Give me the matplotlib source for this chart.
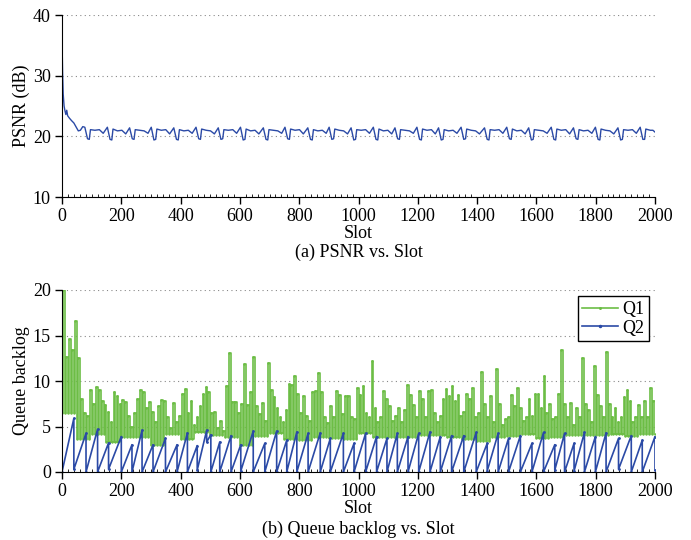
import matplotlib
matplotlib.use("Agg")
import matplotlib.pyplot as plt
from matplotlib.ticker import MultipleLocator

plt.rcParams['font.family'] = ['Liberation Serif', 'DejaVu Serif']
plt.rcParams['font.size'] = 13

# ==========================================
# (a) PSNR vs. Slot  -- key points
# ==========================================
psnr_slot = [
    0, 2, 4, 7, 10, 13, 16, 19, 25, 32, 40, 48, 55, 62, 70, 77,
    86, 92, 96, 111, 126, 139, 153,
    162, 168, 172, 187, 202, 215, 228,
    237, 243, 247, 262, 277, 290, 301,
    310, 316, 320, 335, 350, 363, 377,
    386, 392, 396, 411, 426, 439, 452,
    461, 467, 471, 486, 501, 514, 527,
    536, 542, 546, 561, 576, 589, 602,
    611, 617, 621, 636, 651, 664, 679,
    688, 694, 698, 713, 728, 741, 752,
    761, 767, 771, 786, 801, 814, 829,
    838, 844, 848, 863, 878, 891, 901,
    910, 916, 920, 935, 950, 963, 975,
    984, 990, 994, 1009, 1024, 1037, 1050,
    1059, 1065, 1069, 1084, 1099, 1112, 1123,
    1132, 1138, 1142, 1157, 1172, 1185, 1197,
    1206, 1212, 1216, 1231, 1246, 1259, 1270,
    1279, 1285, 1289, 1304, 1319, 1332, 1346,
    1355, 1361, 1365, 1380, 1395, 1408, 1425,
    1434, 1440, 1444, 1459, 1474, 1487, 1500,
    1509, 1515, 1519, 1534, 1549, 1562, 1574,
    1583, 1589, 1593, 1608, 1623, 1636, 1650,
    1659, 1665, 1669, 1684, 1699, 1712, 1725,
    1734, 1740, 1744, 1759, 1774, 1787, 1799,
    1808, 1814, 1818, 1833, 1848, 1861, 1875,
    1884, 1890, 1894, 1909, 1924, 1937, 1950,
    1959, 1965, 1969, 1984, 1993, 2000,
]
psnr_db = [
    36.0, 30.5, 27.0, 25.0, 24.2, 23.6, 24.3, 23.4, 23.0, 22.6, 22.2, 21.5, 20.9, 21.0, 21.6, 21.5,
    19.6, 19.5, 21.1, 21.0, 21.1, 20.5, 21.5,
    19.5, 19.4, 21.2, 20.9, 21.0, 20.4, 21.4,
    19.6, 19.5, 21.1, 21.0, 20.9, 20.5, 21.5,
    19.4, 19.5, 21.2, 21.0, 21.1, 20.4, 21.4,
    19.5, 19.4, 21.1, 20.9, 21.0, 20.5, 21.5,
    19.6, 19.5, 21.2, 21.0, 20.9, 20.4, 21.4,
    19.5, 19.6, 21.1, 21.0, 21.1, 20.5, 21.5,
    19.4, 19.5, 21.2, 20.9, 21.0, 20.4, 21.4,
    19.5, 19.4, 21.1, 21.0, 20.9, 20.5, 21.5,
    19.6, 19.5, 21.2, 21.0, 21.1, 20.4, 21.4,
    19.5, 19.4, 21.1, 20.9, 21.0, 20.5, 21.5,
    19.5, 19.6, 21.2, 21.0, 20.9, 20.4, 21.4,
    19.4, 19.5, 21.1, 21.0, 21.1, 20.5, 21.5,
    19.5, 19.4, 21.2, 20.9, 21.0, 20.4, 21.4,
    19.6, 19.5, 21.1, 21.0, 20.9, 20.5, 21.5,
    19.5, 19.4, 21.2, 21.0, 21.1, 20.4, 21.4,
    19.4, 19.5, 21.1, 20.9, 21.0, 20.5, 21.5,
    19.5, 19.6, 21.2, 21.0, 20.9, 20.4, 21.4,
    19.5, 19.4, 21.1, 21.0, 21.1, 20.5, 21.5,
    19.6, 19.5, 21.2, 20.9, 21.0, 20.4, 21.4,
    19.4, 19.5, 21.1, 21.0, 20.9, 20.5, 21.5,
    19.5, 19.4, 21.2, 21.0, 21.1, 20.4, 21.4,
    19.6, 19.5, 21.1, 20.9, 21.0, 20.5, 21.5,
    19.5, 19.4, 21.2, 21.0, 20.9, 20.4, 21.4,
    19.4, 19.5, 21.1, 21.0, 21.1, 20.5, 21.5,
    19.5, 19.5, 21.2, 21.0, 21.0, 20.7,
]

# ==========================================
# (b) Queue backlog
# ==========================================
# Q1: highest value in each 10-slot bin, and the floor level per 50 slots
q1_peak = [
    20.0, 12.6, 14.6, 13.4, 16.6, 12.5, 8.0, 6.5, 6.2, 9.0, 7.5, 9.3, 9.0, 7.8, 7.4, 6.6, 5.5, 8.8, 8.4, 7.5,
    7.9, 7.7, 6.1, 5.0, 6.5, 8.0, 9.0, 8.8, 7.0, 7.7, 6.6, 5.5, 7.2, 7.9, 7.8, 6.0, 4.8, 7.6, 5.5, 6.2,
    8.6, 9.1, 6.5, 7.8, 5.2, 6.0, 7.2, 8.6, 9.3, 8.8, 6.5, 6.6, 4.8, 5.6, 4.5, 9.4, 13.1, 7.7, 7.7, 6.5,
    7.5, 11.9, 7.4, 8.8, 12.6, 7.2, 6.4, 7.6, 5.6, 12.0, 9.0, 8.2, 7.0, 6.0, 5.5, 6.8, 9.7, 9.6, 10.6, 8.6,
    6.5, 8.4, 6.2, 5.6, 8.8, 8.9, 10.9, 8.8, 6.0, 5.4, 7.2, 6.0, 8.9, 8.5, 6.4, 8.4, 8.3, 6.0, 5.8, 9.2,
    8.5, 9.5, 6.5, 6.0, 12.2, 7.0, 5.5, 6.0, 8.9, 8.0, 7.2, 5.6, 6.2, 7.0, 5.5, 6.8, 9.6, 8.5, 7.4, 6.0,
    8.9, 8.0, 6.0, 8.9, 9.0, 6.5, 5.5, 6.2, 8.0, 9.1, 8.4, 9.5, 7.8, 8.5, 6.2, 6.6, 8.6, 8.0, 9.2, 6.0,
    6.5, 11.0, 7.5, 6.0, 8.3, 5.5, 11.3, 7.5, 5.2, 5.8, 6.0, 8.5, 7.2, 9.2, 7.0, 5.6, 6.0, 8.0, 6.2, 8.6,
    8.6, 7.0, 10.5, 6.5, 7.5, 5.8, 6.0, 8.6, 13.4, 7.5, 6.0, 7.6, 5.2, 7.0, 6.0, 12.5, 7.5, 6.8, 5.5, 11.7,
    8.5, 7.2, 6.0, 13.2, 7.5, 6.0, 7.0, 5.5, 6.0, 8.2, 9.0, 7.8, 5.5, 6.0, 7.4, 6.0, 7.8, 6.0, 9.2, 7.8,
]
q1_floor = [
    6.5, 3.6, 4.2, 3.3, 3.8, 3.9, 3.0, 4.2, 3.6, 4.4,
    4.1, 3.9, 3.0, 4.0, 4.3, 3.6, 3.5, 3.9, 3.7, 3.6,
    4.3, 3.9, 3.8, 3.8, 4.1, 4.1, 3.8, 3.6, 3.4, 3.9,
    4.0, 4.2, 3.7, 3.8, 4.1, 4.1, 4.1, 4.2, 4.0, 4.2,
]

# Q2: sawtooth -- slot of each drop, value just before it, value right after
q2_drop_slot = [
    40, 81, 120, 157, 200, 236, 270, 307, 349, 388,
    423, 456, 488, 502, 532, 570, 603, 645, 684, 724,
    758, 792, 830, 871, 905, 949, 985, 1024, 1061, 1096,
    1131, 1167, 1203, 1241, 1276, 1314, 1355, 1397, 1434, 1471,
    1506, 1546, 1585, 1624, 1662, 1695, 1727, 1762, 1799, 1835,
    1877, 1920, 1957, 2000,
]
q2_peak = [
    5.9, 4.25, 4.7, 3.2, 3.9, 3.0, 4.6, 3.0, 3.7, 3.0,
    4.3, 2.9, 4.6, 4.1, 3.3, 4.0, 3.0, 4.5, 3.15, 4.5,
    3.5, 4.4, 4.25, 4.3, 3.7, 4.25, 3.15, 4.25, 3.9, 3.7,
    4.25, 3.9, 4.25, 4.4, 3.9, 4.0, 4.0, 4.35, 3.15, 4.25,
    3.7, 4.0, 3.15, 4.35, 3.0, 4.25, 3.15, 4.35, 3.9, 4.3,
    3.7, 4.0, 3.5, 3.9,
]
q2_after = [
    0.3, 0.0, 0.0, 0.3, 0.0, 0.0, 0.0, 0.0, 0.0, 0.0,
    0.0, 0.2, 3.3, 0.0, 0.0, 0.0, 0.1, 0.0, 0.0, 0.0,
    0.0, 0.0, 0.0, 0.0, 0.0, 0.0, 0.0, 0.0, 0.0, 0.0,
    0.0, 0.0, 0.0, 0.0, 0.0, 0.0, 0.0, 0.0, 0.1, 0.0,
    0.0, 0.0, 0.0, 0.0, 0.2, 0.0, 0.1, 0.0, 0.0, 0.0,
    0.3, 0.0, 0.0, 0.2,
]

# build the Q1 and Q2 polylines
q1_x, q1_y = [], []
for i, p in enumerate(q1_peak):
    q1_x += [i * 10, i * 10 + 4]
    q1_y += [q1_floor[i // 5], p]
q1_x.append(2000)
q1_y.append(q1_floor[-1])

q2_x, q2_y = [0], [0.0]
for s, p, a in zip(q2_drop_slot, q2_peak, q2_after):
    q2_x += [s, s]
    q2_y += [p, a]

verde = '#6cbd45'
azul = '#2b4aa6'

fig = plt.figure(figsize=(6.91, 5.4), dpi=100)
ax1 = fig.add_axes([62 / 691, 1 - 197 / 540, 593 / 691, 182 / 540])
ax2 = fig.add_axes([62 / 691, 1 - 472 / 540, 593 / 691, 182 / 540])

ax1.plot(psnr_slot, psnr_db, color=azul, linewidth=1.0)
ax1.set_ylim(10, 40)
ax1.set_yticks([10, 20, 30, 40])
ax1.set_ylabel('PSNR (dB)', labelpad=2)

ax2.plot(q1_x, q1_y, color=verde, linewidth=1.2, drawstyle='steps-post',
         marker='.', markersize=1.5, label='Q1')
ax2.plot(q2_x, q2_y, color=azul, linewidth=1.2,
         marker='.', markersize=2, label='Q2')
ax2.set_ylim(0, 20)
ax2.set_yticks([0, 5, 10, 15, 20])
ax2.set_ylabel('Queue backlog', labelpad=2)

leg = ax2.legend(loc='upper right', fancybox=False, edgecolor='black',
                 framealpha=1, handlelength=2.0, borderpad=0.25,
                 labelspacing=0.1, handletextpad=0.2, borderaxespad=0.35,
                 markerscale=1.5)
leg.get_frame().set_linewidth(1.0)

for ax in (ax1, ax2):
    ax.set_xlim(0, 2000)
    ax.set_xticks(range(0, 2001, 200))
    ax.xaxis.set_minor_locator(MultipleLocator(20))
    ax.set_xlabel('Slot', labelpad=0)
    ax.spines['top'].set_visible(False)
    ax.spines['right'].set_visible(False)
    ax.tick_params(axis='both', which='major', direction='out', length=5,
                   width=1, pad=3, labelsize=13)
    ax.tick_params(axis='x', which='minor', direction='in', length=2, width=0.6)
    ax.grid(True, axis='y', linestyle=(0, (1, 3)), color='#888888', linewidth=0.8)

fig.text(358.5 / 691, 1 - 252 / 540, '(a) PSNR vs. Slot', ha='center', va='center', fontsize=13)
fig.text(358.5 / 691, 1 - 529 / 540, '(b) Queue backlog vs. Slot', ha='center', va='center', fontsize=13)

fig.savefig('out.png', dpi=100)
